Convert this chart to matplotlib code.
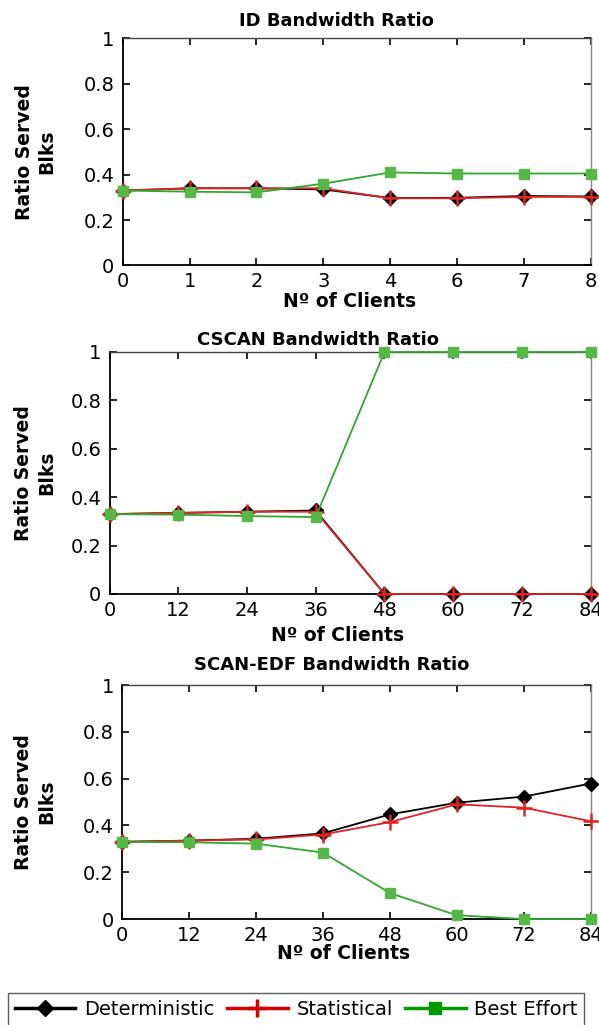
import matplotlib
matplotlib.use("Agg")
import matplotlib.pyplot as plt
from matplotlib.lines import Line2D

plt.rcParams['font.family'] = ['DejaVu Sans']

# x tick labels for each panel
id_clients = ['0', '1', '2', '3', '4', '6', '7', '8']
scan_clients = ['0', '12', '24', '36', '48', '60', '72', '84']

# ID panel
id_det = [0.33, 0.34, 0.34, 0.335, 0.297, 0.298, 0.306, 0.304]
id_stat = [0.33, 0.34, 0.34, 0.34, 0.296, 0.296, 0.302, 0.302]
id_be = [0.33, 0.325, 0.322, 0.36, 0.41, 0.405, 0.405, 0.405]

# CSCAN panel
cscan_det = [0.33, 0.335, 0.34, 0.345, 0.0, 0.0, 0.0, 0.0]
cscan_stat = [0.33, 0.335, 0.34, 0.34, 0.0, 0.0, 0.0, 0.0]
cscan_be = [0.33, 0.328, 0.322, 0.318, 1.0, 1.0, 1.0, 1.0]

# SCAN-EDF panel
edf_det = [0.33, 0.335, 0.343, 0.366, 0.447, 0.497, 0.523, 0.579]
edf_stat = [0.33, 0.335, 0.34, 0.361, 0.414, 0.49, 0.476, 0.418]
edf_be = [0.33, 0.328, 0.322, 0.284, 0.111, 0.016, 0.0, 0.0]

titles = ['ID Bandwidth Ratio', 'CSCAN Bandwidth Ratio', 'SCAN-EDF Bandwidth Ratio']
series_names = ['Deterministic', 'Statistical', 'Best Effort']
panels = [(id_clients, id_det, id_stat, id_be),
          (scan_clients, cscan_det, cscan_stat, cscan_be),
          (scan_clients, edf_det, edf_stat, edf_be)]

# layout per panel: axes rect, title x / pad, xlabel coords, ylabel pad
rects = [(0.205, 0.7410, 0.781, 0.2215),
         (0.183, 0.4205, 0.803, 0.2361),
         (0.204, 0.1034, 0.782, 0.2283)]
title_x = [0.456, 0.434, 0.447]
title_pad = [9, 5, 11]
xlabel_xy = [(0.484, -0.118), (0.473, -0.132), (0.472, -0.106)]
ylabel_pad = [19.5, 10.5, 19.5]

fig = plt.figure(figsize=(5.99, 10.25), dpi=100)

for i, (labels, det, stat, be) in enumerate(panels):
    ax = fig.add_axes(rects[i])
    x = list(range(len(labels)))
    ax.plot(x, det, color='black', lw=1.3, marker='D', ms=7,
            mfc='black', mec='black', clip_on=False, zorder=3)
    ax.plot(x, stat, color='#e02424', lw=1.3, marker='+', ms=11, mew=1.8,
            clip_on=False, zorder=4)
    ax.plot(x, be, color='#2ea82e', lw=1.3, marker='s', ms=7,
            mfc='#55b847', mec='#55b847', clip_on=False, zorder=5)

    ax.set_xlim(0, len(labels) - 1)
    ax.set_ylim(0, 1)
    ax.set_xticks(x)
    ax.set_xticklabels(labels)
    ax.set_yticks([0, 0.2, 0.4, 0.6, 0.8, 1])
    ax.set_yticklabels(['0', '0.2', '0.4', '0.6', '0.8', '1'])
    ax.tick_params(direction='in', length=5, width=1.2, labelsize=14,
                   top=True, right=True)
    ax.tick_params(axis='y', pad=6)
    ax.tick_params(axis='x', pad=5)
    for s in ['left', 'bottom']:
        ax.spines[s].set_linewidth(1.3)
        ax.spines[s].set_color('black')
    ax.spines['top'].set_linewidth(1.0)
    ax.spines['top'].set_color('#444444')
    ax.spines['right'].set_linewidth(1.0)
    ax.spines['right'].set_color('#888888')

    t = ax.set_title(titles[i], fontsize=13, fontweight='bold', pad=title_pad[i])
    t.set_x(title_x[i])
    ax.set_xlabel('Nº of Clients', fontsize=13.5, fontweight='bold')
    ax.xaxis.set_label_coords(*xlabel_xy[i])
    ax.set_ylabel('Ratio Served\nBlks', fontsize=13.5, fontweight='bold',
                  linespacing=1.25, labelpad=ylabel_pad[i])

legend_handles = [
    Line2D([], [], color='black', lw=2.5, marker='D', ms=8, mfc='black', mec='black'),
    Line2D([], [], color='#d40000', lw=2.5, marker='+', ms=13, mew=2.5),
    Line2D([], [], color='#009a00', lw=2.5, marker='s', ms=8, mfc='#009a00', mec='#009a00'),
]
leg = fig.legend(legend_handles, series_names, loc='upper left',
                 bbox_to_anchor=(0.014, 0.0312),
                 ncol=3, fontsize=14, frameon=True, fancybox=False,
                 handlelength=3.1, handletextpad=0.45, columnspacing=0.65,
                 borderpad=0.35, borderaxespad=0)
leg.get_frame().set_edgecolor('#333333')
leg.get_frame().set_linewidth(1.0)

fig.savefig('out.png', dpi=100)
